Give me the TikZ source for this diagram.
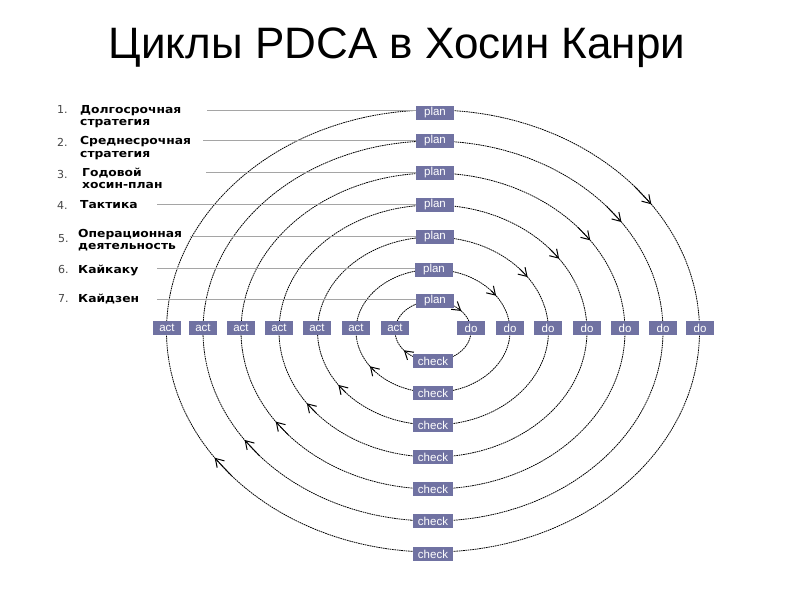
\documentclass[tikz,border=0pt]{standalone}
\usepackage{fontspec}
\setmainfont{Liberation Sans}
\newfontfamily\lblfont[FakeStretch=1.12]{DejaVu Sans}
\newfontfamily\numfont{DejaVu Sans}
\usetikzlibrary{arrows.meta}
\definecolor{boxc}{RGB}{112,114,162}
\definecolor{leadc}{RGB}{165,165,165}
\definecolor{numc}{RGB}{70,70,70}
\begin{document}
\begin{tikzpicture}[x=1pt,y=-1pt,
  ring/.style={black,line width=0.8pt,dash pattern=on 1.6pt off 0.7pt},
  arr/.style={black,line width=0.8pt,-{Straight Barb[length=8pt,width=10pt,line width=1pt]}},
  tag/.style={fill=boxc,text=white,font=\fontsize{11.5}{11.5}\selectfont,inner sep=0pt,minimum height=14pt,anchor=center},
  plantag/.style={tag,minimum width=38pt},
  acttag/.style={tag,minimum width=28pt},
  dotag/.style={tag,minimum width=28pt},
  checktag/.style={tag,minimum width=40pt},
  lbl/.style={font=\lblfont\bfseries\fontsize{11}{11}\selectfont,anchor=base west,inner sep=0pt},
  num/.style={font=\numfont\fontsize{11}{11}\selectfont,text=numc,anchor=base west,inner sep=0pt},
  lead/.style={leadc,line width=1pt}
]
\useasboundingbox (0,0) rectangle (794,595);
\fill[white] (0,0) rectangle (794,595);

\node[anchor=base,font=\fontsize{44}{44}\selectfont] (title) at (397,58) {Циклы PDCA в Хосин Канри};

% rings
\foreach \rx/\ry/\ta/\tb in {38/30/42/220,77/61.5/35/215,115.5/94/35/215,154/126/35/215,192/158/35/215,230/190/35/215,266.5/221/35/215}{
  \draw[ring] (433,331) ellipse [x radius=\rx, y radius=\ry];
  \draw[arr] ({433+\rx*cos(\ta+6)},{331-\ry*sin(\ta+6)}) -- ({433+\rx*cos(\ta)},{331-\ry*sin(\ta)});
  \draw[arr] ({433+\rx*cos(\tb+6)},{331-\ry*sin(\tb+6)}) -- ({433+\rx*cos(\tb)},{331-\ry*sin(\tb)});
}

% plan boxes
\node[plantag] (p1) at (435,113) {plan};
\node[plantag] (p2) at (435,141) {plan};
\node[plantag] (p3) at (435,173) {plan};
\node[plantag] (p4) at (435,205) {plan};
\node[plantag] (p5) at (435,237) {plan};
\node[plantag] (p6) at (434,270) {plan};
\node[plantag] (p7) at (435,301) {plan};

% check boxes
\node[checktag] (c1) at (433,361) {check};
\node[checktag] (c2) at (433,393) {check};
\node[checktag] (c3) at (433,425) {check};
\node[checktag] (c4) at (433,457) {check};
\node[checktag] (c5) at (433,489) {check};
\node[checktag] (c6) at (433,521) {check};
\node[checktag] (c7) at (433,554) {check};

% act boxes
\node[acttag] (a7) at (167,328) {act};
\node[acttag] (a6) at (203,328) {act};
\node[acttag] (a5) at (241,328) {act};
\node[acttag] (a4) at (279,328) {act};
\node[acttag] (a3) at (317,328) {act};
\node[acttag] (a2) at (356,328) {act};
\node[acttag] (a1) at (395,328) {act};

% do boxes
\node[dotag] (d1) at (471,328) {do};
\node[dotag] (d2) at (510,328) {do};
\node[dotag] (d3) at (548,328) {do};
\node[dotag] (d4) at (587,328) {do};
\node[dotag] (d5) at (625,328) {do};
\node[dotag] (d6) at (663,328) {do};
\node[dotag] (d7) at (700,328) {do};

% labels
\node[num] (n1) at (57,113) {1.};
\node[lbl] (t1a) at (80,113) {Долгосрочная};
\node[lbl] (t1b) at (80,125) {стратегия};
\node[num] (n2) at (57,146) {2.};
\node[lbl] (t2a) at (80,144) {Среднесрочная};
\node[lbl] (t2b) at (80,157) {стратегия};
\node[num] (n3) at (57,178) {3.};
\node[lbl] (t3a) at (82,176) {Годовой};
\node[lbl] (t3b) at (82,188) {хосин-план};
\node[num] (n4) at (57,209) {4.};
\node[lbl] (t4a) at (80,208) {Тактика};
\node[num] (n5) at (58,242) {5.};
\node[lbl] (t5a) at (78,237) {Операционная};
\node[lbl] (t5b) at (78,249) {деятельность};
\node[num] (n6) at (58,273) {6.};
\node[lbl] (t6a) at (78,273) {Кайкаку};
\node[num] (n7) at (58,302) {7.};
\node[lbl] (t7a) at (78,302) {Кайдзен};

% leader lines
\coordinate (s1) at (207,110);
\coordinate (s2) at (203,140);
\coordinate (s3) at (206,172);
\coordinate (s4) at (157,204);
\coordinate (s5) at (190,236);
\coordinate (s6) at (157,268);
\coordinate (s7) at (157,299);
\foreach \k in {1,...,7}{
  \draw[lead] (s\k) -- (s\k -| p\k.west);
}
\end{tikzpicture}
\end{document}
